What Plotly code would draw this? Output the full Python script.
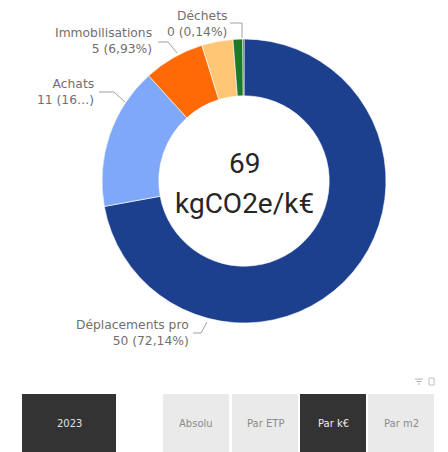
import plotly.graph_objects as go

# ---- data ----
categories = ["Déplacements pro", "Achats", "Immobilisations", "Fret", "Énergie", "Déchets"]
values = [50.0, 11.2, 4.80, 2.46, 0.76, 0.097]   # kgCO2e/k€
colors = ["#1C3F8E", "#7FA8F8", "#FF6A06", "#FFC676", "#1D7A28", "#0F5A1A"]
label_lines = {
    "Déplacements pro": ("Déplacements pro", "50 (72,14%)"),
    "Achats": ("Achats", "11 (16…)"),
    "Immobilisations": ("Immobilisations", "5 (6,93%)"),
    "Déchets": ("Déchets", "0 (0,14%)"),
}
total_text = "69"
unit_text = "kgCO2e/k€"
year_buttons = ["2023"]
mode_buttons = ["Absolu", "Par ETP", "Par k€", "Par m2"]
selected_mode = "Par k€"

# page body has an 8px margin: figure is offset by 8px
OFF = 8
W, H = 448 - OFF, 452 - OFF
def px(x): return (x - OFF) / W
def py(y): return 1 - (y - OFF) / H

fig = go.Figure()
fig.add_trace(go.Pie(
    labels=categories, values=values, hole=0.6, sort=False,
    direction="clockwise", rotation=0,
    marker=dict(colors=colors, line=dict(color="white", width=0.6)),
    textinfo="none", hoverinfo="label+value+percent", showlegend=False,
    domain=dict(x=[px(102), px(386)], y=[py(323), py(39)]),
))

annotations = []
shapes = []
gray = "#707070"
lab_font = dict(family="'DejaVu Sans', sans-serif", size=12.3, color=gray)

label_pos = {
    "Déchets": (229, 24, [(230, 23), (242, 23), (242, 38)]),
    "Immobilisations": (154, 41, [(158, 42), (168, 42), (177, 53)]),
    "Achats": (96, 92, [(99, 92), (114, 92), (125, 102)]),
    "Déplacements pro": (191, 333, [(193, 333), (201, 333), (207, 322)]),
}
for name, (x, y, pts) in label_pos.items():
    l1, l2 = label_lines[name]
    annotations.append(dict(x=px(x), y=py(y), xref="paper", yref="paper",
                            text=l1 + "<br>" + l2, showarrow=False,
                            xanchor="right", yanchor="middle", align="right",
                            font=lab_font))
    path = "M " + " L ".join(f"{px(a)},{py(b)}" for a, b in pts)
    shapes.append(dict(type="path", path=path, xref="paper", yref="paper",
                       line=dict(color="#A0A0A0", width=1)))

# center text
for txt, yy in [(total_text, 163), (unit_text, 203)]:
    annotations.append(dict(x=px(244), y=py(yy), xref="paper", yref="paper",
                            text=txt, showarrow=False, xanchor="center", yanchor="middle",
                            font=dict(family="Roboto, sans-serif", size=28, color="#262626")))

# slicer buttons
btn_font = "'DejaVu Sans', sans-serif"
shapes.append(dict(type="rect", xref="paper", yref="paper",
                   x0=px(22), x1=px(116), y0=py(452), y1=py(394),
                   fillcolor="#333333", line=dict(width=0)))
annotations.append(dict(x=px(69), y=py(423), xref="paper", yref="paper",
                        text=year_buttons[0], showarrow=False,
                        xanchor="center", yanchor="middle",
                        font=dict(family=btn_font, size=10, color="#E0E0E0")))
x_starts = [163, 232, 300, 368]
for name, x0 in zip(mode_buttons, x_starts):
    sel = name == selected_mode
    shapes.append(dict(type="rect", xref="paper", yref="paper",
                       x0=px(x0), x1=px(x0 + 66), y0=py(452), y1=py(394),
                       fillcolor="#333333" if sel else "#EAEAEA", line=dict(width=0)))
    annotations.append(dict(x=px(x0 + 33), y=py(423), xref="paper", yref="paper",
                            text=name, showarrow=False,
                            xanchor="center", yanchor="middle",
                            font=dict(family=btn_font, size=10,
                                      color="#F0F0F0" if sel else "#8A8A8A")))

# small filter icon (top right of slicer)
for i, (a, b) in enumerate([(415, 423), (416.5, 421.5), (418, 420)]):
    yy = 379 + i * 2.5
    shapes.append(dict(type="line", xref="paper", yref="paper",
                       x0=px(a), x1=px(b), y0=py(yy), y1=py(yy),
                       line=dict(color="#B0B0B0", width=1)))
shapes.append(dict(type="rect", xref="paper", yref="paper",
                   x0=px(429), x1=px(434), y0=py(385), y1=py(378),
                   line=dict(color="#C0C0C0", width=1)))

fig.update_layout(
    width=W, height=H, margin=dict(l=0, r=0, t=0, b=0),
    paper_bgcolor="white", plot_bgcolor="white",
    annotations=annotations, shapes=shapes,
)
fig.write_html("out.html", config={"displayModeBar": False})
